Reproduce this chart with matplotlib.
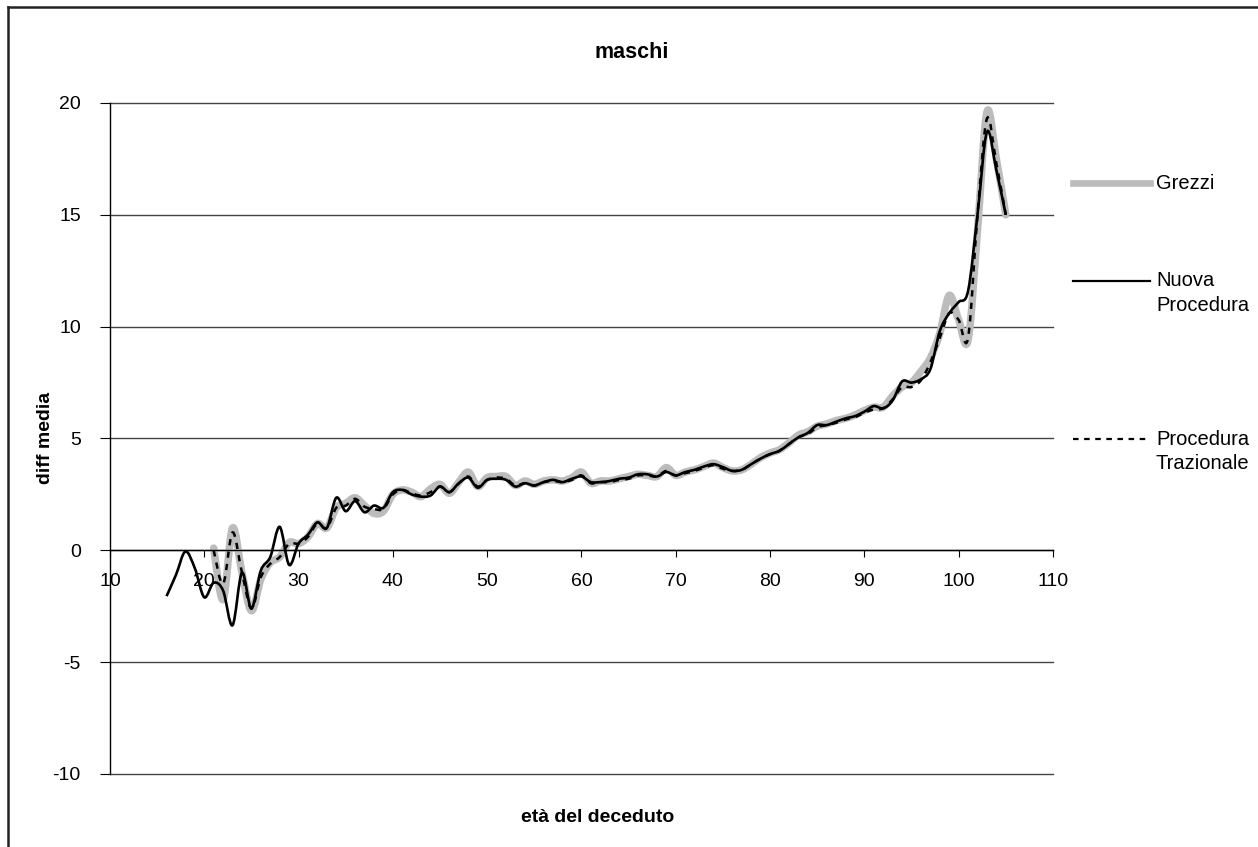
import numpy as np
import matplotlib
matplotlib.use("Agg")
import matplotlib.pyplot as plt
from matplotlib.path import Path
from matplotlib.patches import PathPatch
from matplotlib.lines import Line2D

plt.rcParams['font.family'] = ['Liberation Sans', 'DejaVu Sans']
plt.rcParams['axes.unicode_minus'] = False

# eta' del deceduto
eta_nuova = list(range(16, 106))
eta_grezzi = list(range(21, 106))

nuova = [-2.05, -1.1, -0.05, -0.8, -2.1, -1.45, -1.8, -3.35, -1.0, -2.6,
         -0.9, -0.3, 1.05, -0.65, 0.3, 0.7, 1.25, 1.0, 2.35, 1.75,
         2.2, 1.7, 2.0, 1.9, 2.6, 2.7, 2.5, 2.4, 2.45, 2.85,
         2.6, 3.0, 3.25, 2.8, 3.15, 3.2, 3.15, 2.85, 3.0, 2.9,
         3.05, 3.15, 3.05, 3.2, 3.3, 3.05, 3.05, 3.1, 3.2, 3.25,
         3.4, 3.4, 3.3, 3.5, 3.35, 3.5, 3.6, 3.75, 3.85, 3.72,
         3.55, 3.6, 3.85, 4.1, 4.3, 4.45, 4.75, 5.05, 5.25, 5.6,
         5.6, 5.75, 5.9, 6.0, 6.2, 6.45, 6.35, 6.7, 7.55, 7.5,
         7.65, 8.1, 9.8, 10.6, 11.1, 11.6, 15.0, 18.7, 17.0, 15.0]

grezzi = [0.1, -2.2, 1.0, -1.0, -2.7, -1.3, -0.55, -0.3, 0.35, 0.3,
          0.6, 1.2, 1.0, 1.9, 2.1, 2.35, 2.0, 1.65, 1.75, 2.5,
          2.7, 2.6, 2.4, 2.75, 2.95, 2.55, 3.05, 3.5, 2.85, 3.25,
          3.3, 3.3, 2.9, 3.1, 2.95, 3.1, 3.15, 3.1, 3.25, 3.5,
          3.0, 3.1, 3.1, 3.2, 3.3, 3.4, 3.35, 3.3, 3.7, 3.35,
          3.5, 3.6, 3.75, 3.9, 3.7, 3.55, 3.6, 3.85, 4.15, 4.35,
          4.5, 4.8, 5.15, 5.3, 5.55, 5.65, 5.8, 5.9, 6.05, 6.25,
          6.4, 6.4, 6.9, 7.3, 7.5, 8.0, 8.6, 9.7, 11.4, 10.3,
          9.4, 14.3, 19.6, 17.5, 15.0]

trazionale = [0.0, -1.5, 0.8, -1.0, -2.6, -1.2, -0.6, -0.3, 0.3, 0.3,
              0.6, 1.2, 1.0, 1.9, 2.0, 2.3, 1.95, 1.85, 1.85, 2.5,
              2.7, 2.55, 2.45, 2.6, 2.85, 2.6, 3.0, 3.3, 2.85, 3.15,
              3.25, 3.2, 2.9, 3.0, 2.9, 3.05, 3.1, 3.05, 3.15, 3.35,
              3.0, 3.05, 3.05, 3.15, 3.2, 3.35, 3.35, 3.3, 3.55, 3.35,
              3.45, 3.55, 3.7, 3.8, 3.65, 3.55, 3.6, 3.85, 4.1, 4.3,
              4.45, 4.75, 5.05, 5.2, 5.5, 5.6, 5.7, 5.85, 5.95, 6.15,
              6.3, 6.35, 6.75, 7.3, 7.3, 7.6, 8.4, 9.5, 10.6, 10.3,
              9.5, 15.0, 19.3, 17.3, 15.0]

GRIGIO = '#bcbcbc'


def curva(ax, x, y, **kw):
    # linea smussata tipo Excel (bezier tra i punti)
    p = np.column_stack([np.asarray(x, float), np.asarray(y, float)])
    pe = np.vstack([p[0], p, p[-1]])
    verts = [p[0]]
    codes = [Path.MOVETO]
    for i in range(len(p) - 1):
        c1 = p[i] + (pe[i + 2] - pe[i]) / 6.0
        c2 = p[i + 1] - (pe[i + 3] - pe[i + 1]) / 6.0
        verts += [c1, c2, p[i + 1]]
        codes += [Path.CURVE4] * 3
    ax.add_patch(PathPatch(Path(verts, codes), fill=False, **kw))


fig = plt.figure(figsize=(12.58, 8.47), dpi=100)
ax = fig.add_axes([0.0874, 0.0862, 0.7496, 0.7922])

curva(ax, eta_grezzi, grezzi, edgecolor=GRIGIO, linewidth=5.4,
      capstyle='round', joinstyle='round', zorder=2)
curva(ax, eta_nuova, nuova, edgecolor='black', linewidth=1.9, zorder=3)
curva(ax, eta_grezzi, trazionale, edgecolor='black', linewidth=1.8,
      linestyle=(0, (2.5, 2.5)), zorder=4)

ax.set_xlim(10, 110)
ax.set_ylim(-10, 20)
ax.set_xticks(range(10, 111, 10))
ax.set_yticks(range(-10, 21, 5))
ax.yaxis.grid(True, color='#444444', linewidth=1)
for gl in ax.get_ygridlines():
    gl.set_clip_on(False)
ax.set_axisbelow(True)
for s in ['top', 'right']:
    ax.spines[s].set_visible(False)
ax.spines['bottom'].set_position(('data', 0))
ax.spines['bottom'].set_linewidth(1)
ax.spines['left'].set_linewidth(1)
ax.tick_params(axis='x', direction='out', length=5, pad=11, labelsize=14)
ax.tick_params(axis='y', direction='out', length=7, pad=14, labelsize=14)

# titolo e assi centrati sull'area del grafico
fig.text(632 / 1258, 1 - 52 / 847, 'maschi', fontsize=15.5, fontweight='bold',
         ha='center', va='center')
fig.text(598 / 1258, 1 - 817 / 847, 'età del deceduto', fontsize=14,
         fontweight='bold', ha='center', va='center')
fig.text(0.036, 0.483, 'diff media', fontsize=14, fontweight='bold',
         ha='center', va='center', rotation=90)

# legenda
x0, x1 = 1073 / 1258, 1150 / 1258
xt = 1156 / 1258
fig.add_artist(Line2D([x0, x1], [1 - 183 / 847] * 2, color=GRIGIO, lw=4.8))
fig.text(xt, 1 - 183 / 847, 'Grezzi', fontsize=14.5, va='center')
fig.add_artist(Line2D([x0, x1], [1 - 281 / 847] * 2, color='black', lw=1.6))
fig.text(xt, 1 - 281 / 847, 'Nuova', fontsize=14.5, va='center')
fig.text(xt, 1 - 305 / 847, 'Procedura', fontsize=14.5, va='center')
fig.add_artist(Line2D([x0, x1], [1 - 439 / 847] * 2, color='black', lw=1.6,
                      linestyle=(0, (2.5, 2.5))))
fig.text(xt, 1 - 439 / 847, 'Procedura', fontsize=14.5, va='center')
fig.text(xt, 1 - 463 / 847, 'Trazionale', fontsize=14.5, va='center')

# cornice
fig.add_artist(Line2D([8 / 1258, 8 / 1258], [0, 1 - 7 / 847], color='#222222', lw=1.8))
fig.add_artist(Line2D([8 / 1258, 1], [1 - 7 / 847] * 2, color='#222222', lw=1.8))

fig.savefig('out.png', dpi=100)
